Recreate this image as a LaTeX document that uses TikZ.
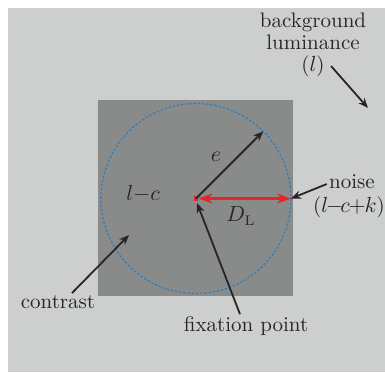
\documentclass[tikz,border=0pt]{standalone}
\usepackage{amsmath}
\usepackage{tikz}
\usetikzlibrary{positioning,arrows.meta}
\usepackage{xcolor}

\definecolor{bggray}{HTML}{CDCFCF}
\definecolor{patchgray}{HTML}{898A8A}
\definecolor{rimblue}{HTML}{2A7FC0}
\definecolor{fixred}{HTML}{E3262B}
\definecolor{inkgray}{HTML}{262626}

\tikzset{
	lbl/.style={text=inkgray,inner sep=1pt,font=\fontsize{10.5}{11}\selectfont},
	pointer/.style={draw=inkgray,line width=0.9pt,-{Stealth[length=5pt,width=4pt]}},
}

\begin{document}
\begin{tikzpicture}[x=0.5pt,y=-0.5pt]
		
		\useasboundingbox (0,0) rectangle (385,372);
		\fill[bggray] (8,8) rectangle (385,372);
		\fill[patchgray] (98,100) rectangle (293,296);
		\draw[rimblue,line width=0.6pt,dash pattern=on 1.2pt off 0.9pt] (196,198.5) circle[radius=95];
		
		\coordinate (rime) at (263.2,131.3);
		\coordinate (rimr) at (291,198.5);
		\coordinate (bgtip) at (368,108);
		\coordinate (ctip) at (129,235);
		\coordinate (ftip) at (197,203);
		
		\node[
		fill=fixred,
		minimum size=2.2pt,
		inner sep=0pt
		]
		(fix)
		at (196,198.5)
		{};
		
		\node[lbl] (lc) at (143,194) {$l{-}c$};
		\node[lbl] (e) at (216,157) {$e$};
		\node[lbl] (DL) at (241,216) {$D_{\mathrm{L}}$};
		
		\node[
		lbl,
		align=center
		]
		(bglum)
		at (313,31)
		{background\\luminance};
		\node[lbl] (bgl) at (313,66) {($l$)};
		
		\node[lbl,inner sep=0pt] (noise) at (352,182) {noise};
		\node[lbl,inner sep=0pt] (noisek) at (349,207) {($l\mkern-2mu{-}\mkern-2mu c\mkern-1mu{+}\mkern-1mu k$)};
		
		\node[lbl] (contrast) at (58,302) {contrast};
		\node[lbl] (fixlbl) at (246,326) {fixation point};
		
		\draw[pointer] (fix.center) -- (rime);
		\draw[fixred,line width=1.5pt,{Stealth[length=7pt,width=5pt]}-{Stealth[length=7pt,width=5pt]}] (fix) -- (rimr);
		
		\draw[pointer] ([xshift=-1pt,yshift=-1pt]noise.west) -- (rimr);
		\draw[pointer] ([xshift=2pt]bgl.east) -- (bgtip);
		\draw[pointer] ([xshift=7pt]contrast.north) -- (ctip);
		\draw[pointer] ([xshift=-3pt]fixlbl.north) -- (ftip);
		
	\end{tikzpicture}
\end{document}
